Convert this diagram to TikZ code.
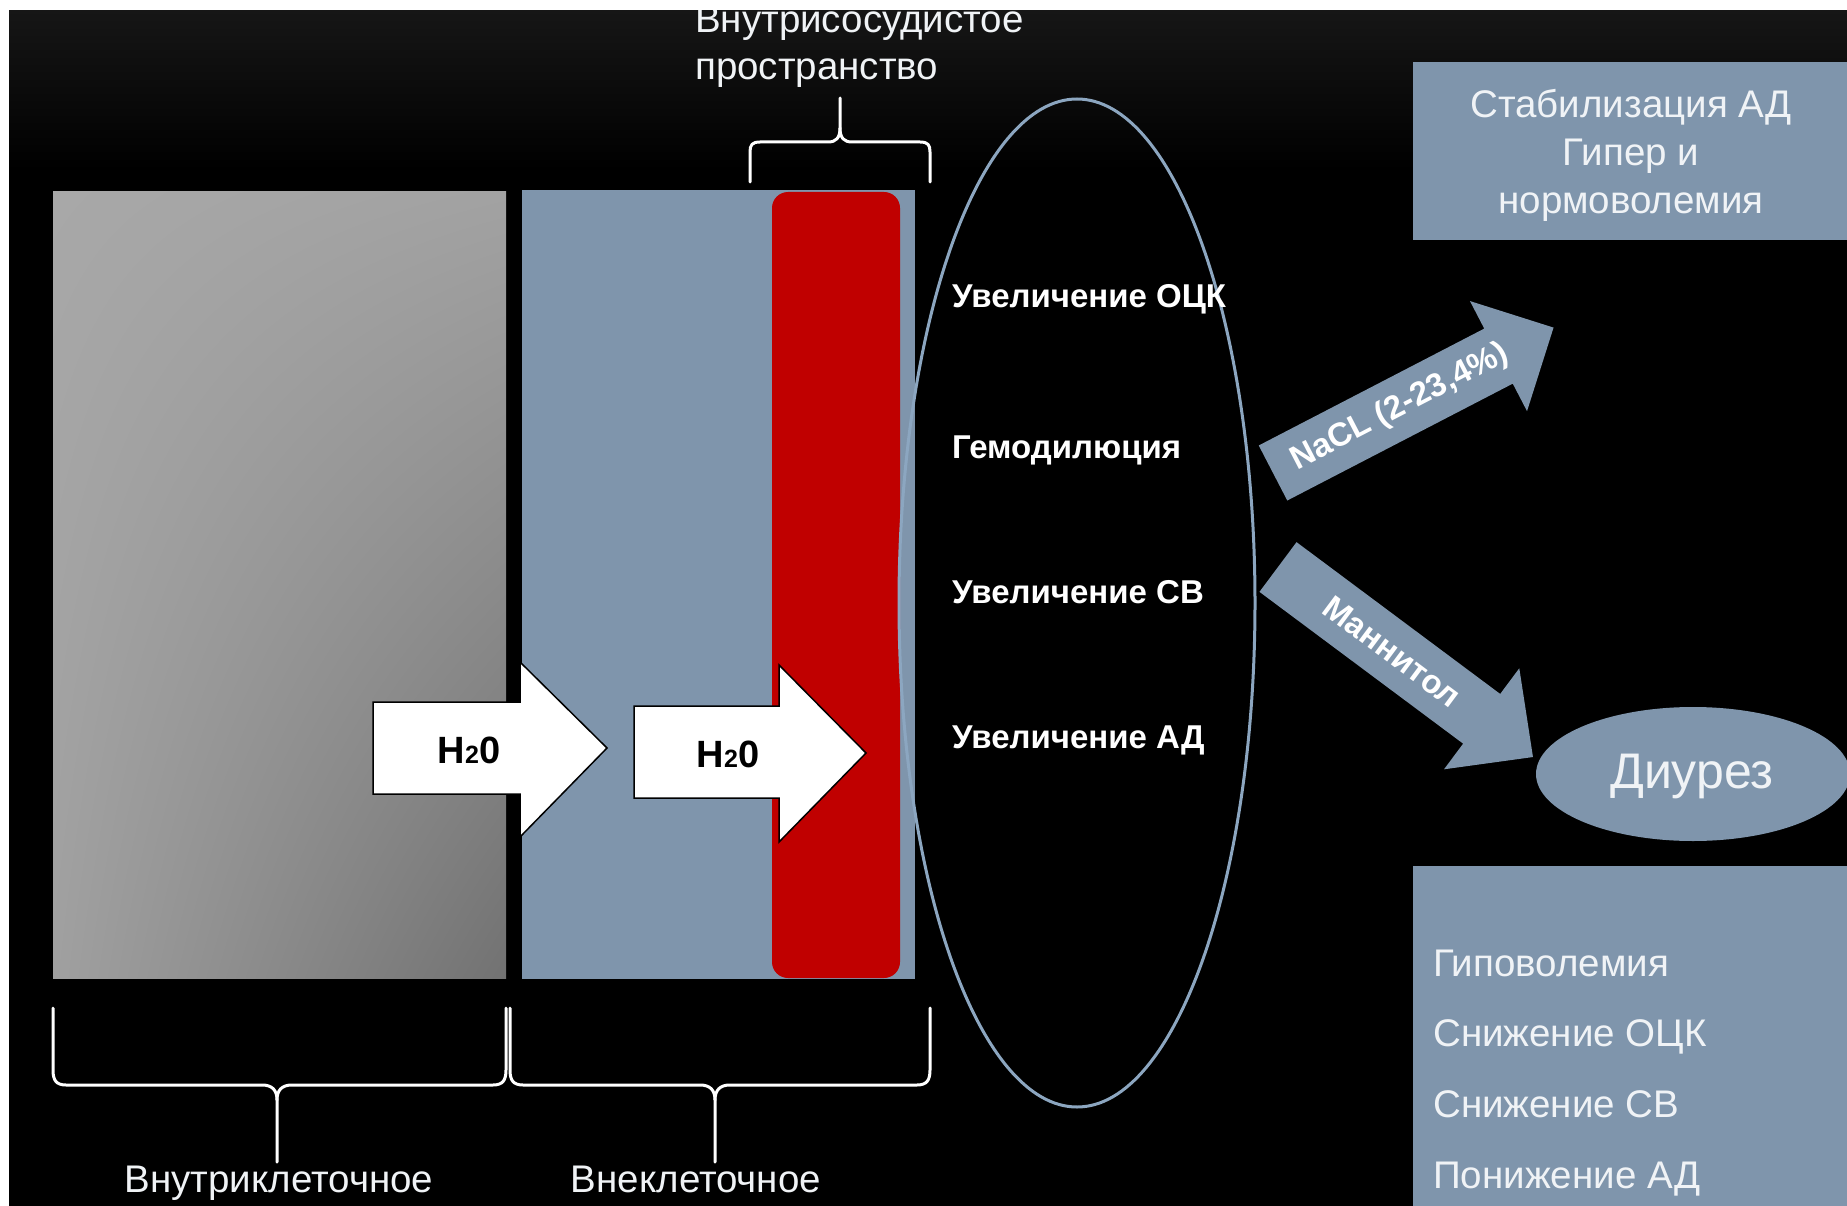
\documentclass[tikz,border=0pt]{standalone}
\usepackage{fontspec}
\setmainfont{Liberation Sans}
\usetikzlibrary{shapes.geometric,shadings}
\definecolor{bgblue}{RGB}{127,149,172}
\definecolor{ellline}{RGB}{140,166,192}
\definecolor{bloodred}{RGB}{192,0,0}
\definecolor{txtwhite}{RGB}{240,243,246}
\definecolor{topgray}{RGB}{22,22,22}
\definecolor{grayA}{RGB}{168,168,168}
\definecolor{grayB}{RGB}{162,162,162}
\definecolor{grayC}{RGB}{160,160,160}
\definecolor{grayD}{RGB}{114,114,114}
\begin{document}
\begin{tikzpicture}[x=1pt,y=-1pt,
  lbl/.style={text=txtwhite, font=\fontsize{38.5}{48}\selectfont, inner sep=0pt},
  elltxt/.style={text=white, font=\bfseries\fontsize{33}{37}\selectfont, anchor=base west, inner sep=0pt},
  bracepath/.style={draw=white, line width=3pt, line join=round, line cap=round},
  fatarrow/.style={fill=bgblue},
  waterarrow/.style={fill=white, draw=black, line width=1.5pt},
  h2o/.style={text=black, font=\bfseries\fontsize{38}{38}\selectfont, inner sep=0pt},
  arrtxt/.style={text=white, font=\bfseries\fontsize{33}{33}\selectfont, inner sep=0pt},
]
\useasboundingbox (0,0) rectangle (1847,1206);
\fill[white] (0,0) rectangle (1847,1206);
\fill[black] (9,10) rectangle (1847,1206);
\shade[top color=topgray, bottom color=black] (9,10) rectangle (1847,170);

% compartments
\shade[upper left=grayA, upper right=grayB, lower left=grayC, lower right=grayD] (53,192) rectangle (506,978);
\fill[bgblue] (522,190) rectangle (915,979);
\fill[bloodred, rounded corners=16pt] (772,192) rectangle (900,978);

% water arrows
\draw[waterarrow] (373,702) -- (520,702) -- (520,662) -- (607,748) -- (520,837) -- (520,794) -- (373,794) -- cycle;
\node[h2o] (w1) at (469,750) {H{\fontsize{25}{25}\selectfont 2}0};
\draw[waterarrow] (634,706) -- (779,706) -- (779,665) -- (866,753) -- (779,842) -- (779,798) -- (634,798) -- cycle;
\node[h2o] (w2) at (728,754) {H{\fontsize{25}{25}\selectfont 2}0};

% big ellipse
\node[draw=ellline, line width=3pt, ellipse, minimum width=356, minimum height=1008, inner sep=0pt] (pool) at (1077,603) {};
\node[elltxt] (e1) at (952,308) {Увеличение ОЦК};
\node[elltxt] (e2) at (952,458) {Гемодилюция};
\node[elltxt] (e3) at (952,603) {Увеличение СВ};
\node[elltxt] (e4) at (952,748) {Увеличение АД};

% NaCl arrow
\begin{scope}[shift={(1273,473)}, rotate=27.4]
  \fill[fatarrow] (0,-31) -- (254,-31) -- (254,-62) -- (316,0) -- (254,62) -- (254,31) -- (0,31) -- cycle;
  \coordinate (naclc) at (143,0);
\end{scope}
\node[arrtxt, rotate=27.4] (nacl) at (naclc) {NaCL (2-23,4\%)};

% Mannitol arrow
\begin{scope}[shift={(1278,567)}, rotate=-36.7]
  \fill[fatarrow] (0,-31) -- (254,-31) -- (254,-63) -- (318,0) -- (254,63) -- (254,31) -- (0,31) -- cycle;
  \coordinate (mannc) at (142,0);
\end{scope}
\node[arrtxt, rotate=-36.7] (mann) at (mannc) {Маннитол};

% right side
\node[fill=bgblue, minimum width=434, minimum height=178, anchor=north west, inner sep=0pt] (stab) at (1413,62) {};
\node[lbl, align=center] (stabt) at (1631,155) {Стабилизация АД\\Гипер и\\нормоволемия};
\node[ellipse, fill=bgblue, minimum width=314, minimum height=134, inner sep=0pt] (diur) at (1693,774) {};
\node[text=txtwhite, font=\fontsize{50}{50}\selectfont, inner sep=0pt] (diurt) at (1692,776) {Диурез};
\fill[bgblue] (1413,866) rectangle (1847,1206);
\node[lbl, anchor=base west] (h1) at (1433,976) {Гиповолемия};
\node[lbl, anchor=base west] (h2) at (1433,1046) {Снижение ОЦК};
\node[lbl, anchor=base west] (h3) at (1433,1117) {Снижение СВ};
\node[lbl, anchor=base west] (h4) at (1433,1188) {Понижение АД};

% top brace and label
\draw[bracepath] (750,182) -- (750,152) .. controls (750,145) and (752,142) .. (760,142) -- (828,142) .. controls (836,142) and (840,138) .. (840,128) -- (840,98);
\draw[bracepath] (930,182) -- (930,152) .. controls (930,145) and (928,142) .. (920,142) -- (852,142) .. controls (844,142) and (840,138) .. (840,128);
\node[lbl, anchor=base west] (vs1) at (695,33) {Внутрисосудистое};
\node[lbl, anchor=base west] (vs2) at (695,80) {пространство};

% bottom braces and labels
\draw[bracepath] (53,1008) -- (53,1070) .. controls (53,1080) and (56,1085) .. (66,1085) -- (262,1085) .. controls (272,1085) and (277,1090) .. (277,1100) -- (277,1162);
\draw[bracepath] (506,1008) -- (506,1070) .. controls (506,1080) and (503,1085) .. (493,1085) -- (292,1085) .. controls (282,1085) and (277,1090) .. (277,1100);
\draw[bracepath] (510,1008) -- (510,1070) .. controls (510,1080) and (513,1085) .. (523,1085) -- (700,1085) .. controls (710,1085) and (715,1090) .. (715,1100) -- (715,1162);
\draw[bracepath] (930,1008) -- (930,1070) .. controls (930,1080) and (927,1085) .. (917,1085) -- (730,1085) .. controls (720,1085) and (715,1090) .. (715,1100);
\node[lbl, anchor=base] (lab1) at (279,1192) {Внутриклеточное};
\node[lbl, anchor=base] (lab2) at (696,1192) {Внеклеточное};

% white page edge
\fill[white] (0,0) rectangle (1847,10);
\fill[white] (0,0) rectangle (9,1206);
\end{tikzpicture}
\end{document}
